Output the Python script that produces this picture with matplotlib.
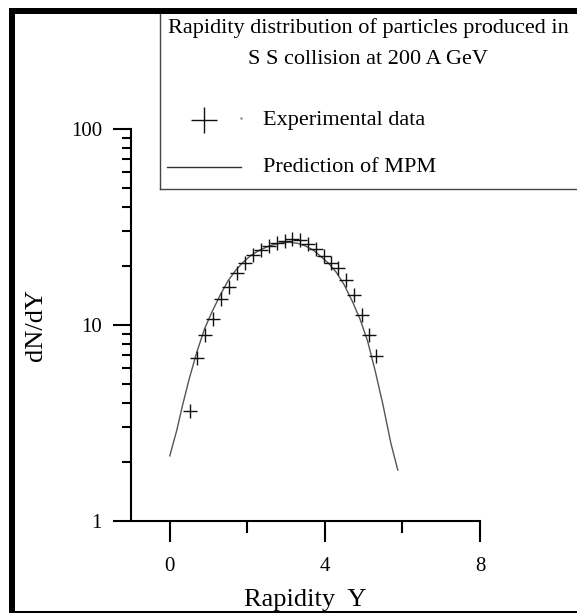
import matplotlib.pyplot as plt
from matplotlib.lines import Line2D
from matplotlib.patches import Rectangle
from matplotlib.ticker import FixedLocator, NullFormatter

plt.rcParams['font.family'] = ['Liberation Serif', 'DejaVu Serif']

W, H = 577, 613

# experimental data (rapidity, dN/dY)
y_exp = [0.52, 0.71, 0.92, 1.12, 1.33, 1.53, 1.73, 1.94, 2.14, 2.36,
         2.56, 2.76, 2.96, 3.16, 3.36, 3.56, 3.76,
         3.97, 4.16, 4.35, 4.55, 4.75, 4.95, 5.14, 5.33]
dn_exp = [3.65, 6.8, 8.9, 10.7, 13.6, 15.7, 18.4, 20.6, 22.8, 24.1,
          25.3, 26.2, 26.8, 27.6, 27.0, 25.8, 24.5,
          22.5, 20.8, 19.5, 17.0, 14.2, 11.2, 8.9, 6.95]

# MPM prediction
y_mpm = [0.0, 0.18, 0.33, 0.5, 0.7, 0.9, 1.1, 1.3, 1.5, 1.7, 1.9, 2.1, 2.3,
         2.5, 2.7, 2.9, 3.1, 3.3, 3.5, 3.7, 3.9, 4.1, 4.3, 4.5, 4.7, 4.9,
         5.1, 5.3, 5.5, 5.7, 5.88]
dn_mpm = [2.15, 2.9, 3.9, 5.3, 7.3, 9.6, 11.8, 14.2, 16.8, 19.0, 21.0, 22.7, 24.0,
          25.0, 25.8, 26.3, 26.4, 26.1, 25.3, 24.1, 22.3, 20.6, 18.5, 16.0, 13.3, 10.8,
          8.3, 5.8, 3.9, 2.5, 1.82]

xticks_major = [0, 4, 8]
xticks_minor = [2, 6]
yticks_major = [1, 10, 100]
yticks_minor = [2, 3, 4, 5, 6, 7, 8, 9, 20, 30, 40, 50, 60, 70, 80, 90]


def fx(px):
    return px / W


def fy(py):
    return 1 - py / H


fig = plt.figure(figsize=(W / 100, H / 100), dpi=100)
ax = fig.add_axes([fx(131), fy(521), (480 - 131) / W, (521 - 129) / H])

ax.plot(y_mpm, dn_mpm, color='#555555', lw=1.0)
ax.plot(y_exp, dn_exp, ls='none', marker='+', ms=10, mew=1.0, color='#111111')

ax.set_yscale('log')
ax.set_xlim(-1, 8)
ax.set_ylim(1, 100)
ax.spines['top'].set_visible(False)
ax.spines['right'].set_visible(False)
for s in ['left', 'bottom']:
    ax.spines[s].set_linewidth(1.5)

ax.xaxis.set_major_locator(FixedLocator(xticks_major))
ax.xaxis.set_minor_locator(FixedLocator(xticks_minor))
ax.yaxis.set_major_locator(FixedLocator(yticks_major))
ax.yaxis.set_minor_locator(FixedLocator(yticks_minor))
ax.yaxis.set_minor_formatter(NullFormatter())
ax.set_yticklabels(['1', '10', '100'])
ax.set_xticklabels(['0', '4', '8'])

ax.tick_params(axis='x', which='major', direction='out', length=15, width=1.5, pad=11, labelsize=15)
ax.tick_params(axis='x', which='minor', direction='out', length=8.5, width=1.5)
ax.tick_params(axis='y', which='major', direction='out', length=13, width=1.5, pad=8, labelsize=15)
ax.tick_params(axis='y', which='minor', direction='out', length=6.5, width=1.5)

ax.set_xlabel('Rapidity  Y', fontsize=19, labelpad=9)
ax.set_ylabel('dN/dY', fontsize=19, labelpad=17)

# legend box
lc = '#444444'
fig.add_artist(Line2D([fx(160), fx(160)], [fy(14), fy(189)], color=lc, lw=1.0))
fig.add_artist(Line2D([fx(160), fx(577)], [fy(189), fy(189)], color=lc, lw=1.0))
fig.text(fx(368), fy(28), 'Rapidity distribution of particles produced in',
         ha='center', va='center', fontsize=16)
fig.text(fx(368), fy(60), 'S S collision at 200 A GeV',
         ha='center', va='center', fontsize=16)
fig.add_artist(Line2D([fx(204)], [fy(120)], marker='+', ms=19, mew=1.0, color='#111111'))
fig.add_artist(Line2D([fx(241)], [fy(118)], marker='.', ms=1.5, color='#888888'))
fig.text(fx(263), fy(121), 'Experimental data', ha='left', va='center', fontsize=16)
fig.add_artist(Line2D([fx(167), fx(241)], [fy(167), fy(167)], color='#333333', lw=1.0))
fig.text(fx(263), fy(168), 'Prediction of MPM', ha='left', va='center', fontsize=16)

# black frame
fig.add_artist(Rectangle((fx(9), fy(14)), fx(577) - fx(9), fy(8) - fy(14),
                         transform=fig.transFigure, color='black', lw=0))
fig.add_artist(Rectangle((fx(9), 0), fx(15) - fx(9), fy(8),
                         transform=fig.transFigure, color='black', lw=0))
fig.add_artist(Rectangle((fx(9), 0), 1, 2 / H,
                         transform=fig.transFigure, color='black', lw=0))

fig.savefig('out.png', dpi=100)
